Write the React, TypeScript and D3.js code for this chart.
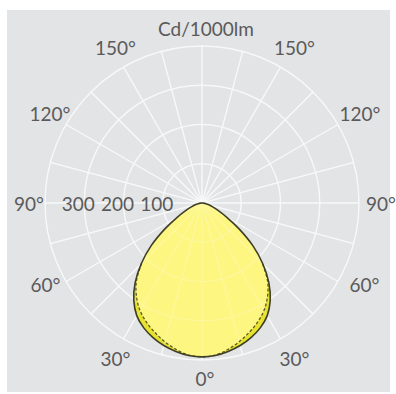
import * as d3 from "d3";

// luminous intensity (cd/1000lm) vs angle from nadir
const angles = [0, 5, 10, 15, 20, 25, 30, 35, 40, 45, 50, 55, 60, 65, 70, 75, 80, 85, 90];
const planeC0 = [392, 390, 384, 376, 365, 351, 332, 303, 265, 219, 169, 116, 73, 45, 29, 18, 10, 4, 0];
const planeC90 = [392, 389, 379, 366, 351, 335, 316, 291, 260, 218, 169, 116, 73, 45, 29, 18, 10, 4, 0];

const ringValues = [100, 200, 300, 400];
const ringLabels = ["100", "200", "300"];
const angleLabels = [0, 30, 60, 90, 120, 150];
const unitLabel = "Cd/1000lm";

const W = 396;
const H = 394;
const cx = 202;
const cy = 203;

type Pt = { a: number; v: number };

export default function App() {
  const r = d3.scaleLinear().domain([0, 400]).range([0, 157]);
  const rad = (deg: number) => (deg * Math.PI) / 180;

  // full loop: right half from nadir up, then left half back down
  const loop = (vals: number[]): Pt[] => {
    const right = angles.map((a, i) => ({ a: Math.PI - rad(a), v: vals[i] }));
    const left: Pt[] = [];
    for (let i = angles.length - 2; i >= 1; i--) {
      left.push({ a: Math.PI + rad(angles[i]), v: vals[i] });
    }
    return [...right, ...left];
  };

  const radial = d3
    .lineRadial<Pt>()
    .angle((d) => d.a)
    .radius((d) => r(d.v))
    .curve(d3.curveCatmullRomClosed);

  const outerPath = radial(loop(planeC0)) || "";
  const innerPath = radial(loop(planeC90)) || "";

  // dashed part only where the planes differ (lower half)
  const openLine = d3
    .lineRadial<Pt>()
    .angle((d) => d.a)
    .radius((d) => r(d.v))
    .curve(d3.curveCatmullRom);
  const dashPts: Pt[] = [];
  for (let i = 9; i >= 0; i--) dashPts.push({ a: Math.PI + rad(angles[i]), v: planeC90[i] });
  for (let i = 1; i <= 9; i++) dashPts.push({ a: Math.PI - rad(angles[i]), v: planeC90[i] });
  const dashPath = openLine(dashPts) || "";

  const spokes = d3.range(0, 360, 15);
  const font = "Lato, 'Open Sans', sans-serif";
  const textColor = "#5a5a5a";

  const gridLines = (opacity: number, width: number) => (
    <g stroke="#ffffff" strokeWidth={width} fill="none" opacity={opacity}>
      {ringValues.map((v) => (
        <circle key={v} r={r(v)} />
      ))}
      {spokes.map((s) => (
        <line
          key={s}
          x1={0}
          y1={0}
          x2={r(400) * Math.sin(rad(s))}
          y2={r(400) * Math.cos(rad(s))}
        />
      ))}
    </g>
  );

  return (
    <svg
      width={W}
      height={H}
      style={{ position: "absolute", left: 0, top: 0, background: "#fff" }}
    >
      <rect x={7} y={10} width={383} height={382} fill="#e3e4e6" />
      <g transform={`translate(${cx},${cy})`}>
        {gridLines(0.7, 1.4)}

        <path d={outerPath} fill="#e6e22e" />
        <path d={innerPath} fill="#fdf680" />
        {gridLines(0.25, 1.2)}
        <path d={dashPath} fill="none" stroke="#5c5c22" strokeWidth={1.3} strokeDasharray="3,2" />
        <path d={outerPath} fill="none" stroke="#3f3f28" strokeWidth={1.6} />

        {ringLabels.map((t, i) => (
          <text
            key={t}
            x={-(r(ringValues[i]) + 6)}
            y={0}
            textAnchor="middle"
            dominantBaseline="central"
            fontFamily={font}
            fontSize={19}
            fill={textColor}
          >
            {t}
          </text>
        ))}

        {angleLabels.map((a) =>
          (a === 0 ? [1] : [-1, 1]).map((side) => {
            const t = rad(a === 60 ? 63 : a);
            const rr = a === 0 ? 175 : a === 90 ? 176 : 179;
            return (
              <text
                key={`${a}-${side}`}
                x={side * rr * Math.sin(t) + 3}
                y={rr * Math.cos(t)}
                textAnchor="middle"
                dominantBaseline="central"
                fontFamily={font}
                fontSize={19}
                fill={textColor}
              >
                {`${a}°`}
              </text>
            );
          })
        )}
      </g>
      <text
        x={206}
        y={28}
        textAnchor="middle"
        dominantBaseline="central"
        fontFamily={font}
        fontSize={19}
        fill={textColor}
      >
        {unitLabel}
      </text>
    </svg>
  );
}
